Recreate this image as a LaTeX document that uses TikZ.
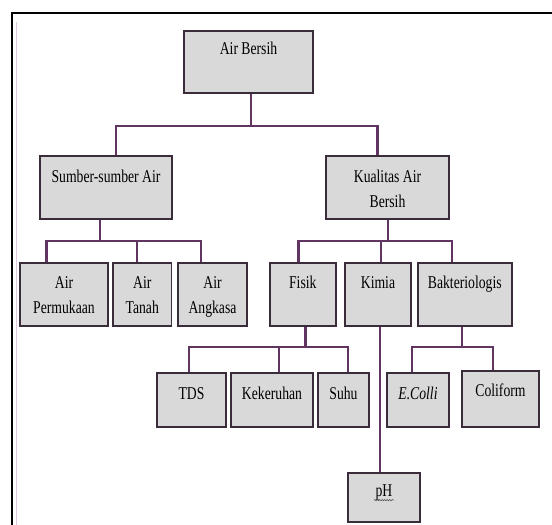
\documentclass[tikz,border=0pt]{standalone}
\usepackage{fontspec}
\setmainfont{Liberation Serif}[FakeStretch=0.76]
\usetikzlibrary{decorations.pathmorphing}
\definecolor{garis}{RGB}{98,52,98}
\definecolor{tepi}{RGB}{58,44,58}
\definecolor{isi}{RGB}{217,217,217}
\definecolor{pinkline}{RGB}{225,200,225}

\begin{document}
\begin{tikzpicture}[x=1pt, y=-1pt, line join=miter, font=\fontsize{18}{25}\selectfont]
			\tikzset{kotak/.style={draw=tepi, fill=isi, line width=1.8pt, inner sep=0pt},
				tulis/.style={anchor=base, inner sep=0pt, text width=120pt, align=center,
					execute at begin node={\spaceskip=3.4pt\relax}},
				hubung/.style={garis, line width=2.6pt}}
			\useasboundingbox (0,0) rectangle (552,525);
			% frame
			\draw[line width=2.2pt] (12,525) |- (552,13);
			\draw[pinkline, line width=.6pt] (16.5,22) -- (16.5,525);
			% boxes: name/x1/y1/x2/y2
			\foreach \n/\a/\b/\c/\d in {bersih/184/31/313/93, sumber/40/156/172/219, kualitas/326/156/449/219,
				perm/20/263/108/326, tanah/113/263/171.5/326, angkasa/178/263/247/326,
				fisik/270/263/335.6/326, kimia/345/263/411/326, bakteri/418/263/511.6/326,
				tds/157/373/226/427, keruh/231/373/313/427, suhu/318/373/369/427,
				ecoli/387/373/449/427, coliform/462/371/539/427, ph/348/473/420/522}
			{\node[kotak, minimum width=\c-\a, minimum height=\d-\b] (\n) at ({(\a+\c)/2},{(\b+\d)/2}) {};}
			% texts
			\foreach \n/\dy/\t in {bersih/24.7/Air Bersih, sumber/27/Sumber-sumber Air, kualitas/27/{Kualitas Air\\Bersih},
				perm/26/{Air\\Permukaan}, tanah/26/{Air\\Tanah}, angkasa/26/{Air\\Angkasa},
				fisik/26/Fisik, kimia/26/Kimia, bakteri/26/Bakteriologis,
				tds/27/TDS, keruh/27/Kekeruhan, suhu/27/Suhu, ecoli/27/{\textit{E.Colli}},
				coliform/26/Coliform, ph/24/pH}
			{\node[tulis] (t\n) at ([yshift=-\dy pt]\n.north) {\t};}
			\draw[gray!60!black, line width=.5pt, decorate, decoration={snake, amplitude=.7pt, segment length=2.5pt}]
				([xshift=-10pt, yshift=-4pt]tph.base) -- ([xshift=10pt, yshift=-4pt]tph.base);
			% Air Bersih
			\path (251,126) coordinate (b0) (116,126) coordinate (b1) (377.5,126) coordinate (b2);
			\draw[hubung] (bersih.south -| b0) -- (b0);
			\draw[hubung] (sumber.north -| b1) -- (b1) -- (b2) -- (kualitas.north -| b2);
			% Sumber-sumber Air
			\path (100,241) coordinate (s0) (46.5,241) coordinate (s1) (137,241) coordinate (s2) (201,241) coordinate (s3);
			\draw[hubung] (sumber.south -| s0) -- (s0);
			\draw[hubung] (perm.north -| s1) -- (s1) -- (s3) -- (angkasa.north -| s3);
			\draw[hubung] (s2) -- (tanah.north -| s2);
			% Kualitas Air Bersih
			\path (388,241) coordinate (k0) (298.6,241) coordinate (k1) (381,241) coordinate (k2) (452,241) coordinate (k3);
			\draw[hubung] (kualitas.south -| k0) -- (k0);
			\draw[hubung] (fisik.north -| k1) -- (k1) -- (k3) -- (bakteri.north -| k3);
			\draw[hubung] (k2) -- (kimia.north -| k2);
			% Fisik
			\path (305.6,347) coordinate (f0) (189,347) coordinate (f1) (279,347) coordinate (f2) (348,347) coordinate (f3);
			\draw[hubung] (fisik.south -| f0) -- (f0);
			\draw[hubung] (tds.north -| f1) -- (f1) -- (f3) -- (suhu.north -| f3);
			\draw[hubung] (f2) -- (keruh.north -| f2);
			% Kimia
			\path (380,326) coordinate (m0);
			\draw[hubung] (kimia.south -| m0) -- (ph.north -| m0);
			% Bakteriologis
			\path (462,347) coordinate (c0) (412,347) coordinate (c1) (493,347) coordinate (c2);
			\draw[hubung] (bakteri.south -| c0) -- (c0);
			\draw[hubung] (ecoli.north -| c1) -- (c1) -- (c2) -- (coliform.north -| c2);
		\end{tikzpicture}
\end{document}
